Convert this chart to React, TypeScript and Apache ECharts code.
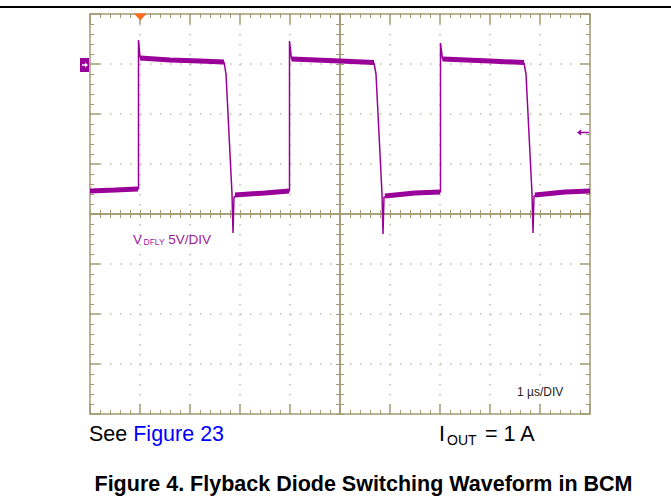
import React, { useEffect, useRef } from "react";
import * as echarts from "echarts";

// Time (µs) and voltage (V) of the VDFLY trace
const traceTime = [
  0, 0.5, 0.97, 0.97, 1.0, 1.2, 1.6, 2.2, 2.68, 2.72, 2.76, 2.8, 2.84, 2.86, 2.88, 3.0, 3.5, 3.99,
  3.99, 4.03, 4.5, 5.0, 5.68, 5.72, 5.76, 5.8, 5.84, 5.86, 5.88, 6.0, 6.5, 7.01,
  7.01, 7.05, 7.5, 8.0, 8.68, 8.72, 8.76, 8.8, 8.84, 8.86, 8.88, 9.0, 9.5, 10,
];
const traceVolts = [
  -12.7, -12.6, -12.5, 2.4, 0.7, 0.5, 0.4, 0.3, 0.2, -1, -5, -9, -13, -16.9, -13.3, -13.0, -12.9, -12.7,
  2.3, 0.5, 0.4, 0.3, 0.1, -1, -5, -9, -13, -17.0, -13.3, -13.1, -12.9, -12.8,
  2.1, 0.5, 0.4, 0.3, 0.1, -1, -5, -9, -13, -16.9, -13.2, -13.0, -12.8, -12.7,
];

// Noisy plateau segments (thick band), null = gap
const bandTime = [
  0, 0.5, 0.96, null, 1.0, 1.6, 2.2, 2.68, null, 2.9, 3.5, 3.98, null,
  4.03, 5.0, 5.68, null, 5.9, 6.5, 7.0, null, 7.05, 8.0, 8.68, null, 8.9, 9.5, 10,
];
const bandVolts = [
  -12.7, -12.6, -12.5, null, 0.6, 0.4, 0.3, 0.2, null, -13.1, -12.9, -12.7, null,
  0.5, 0.3, 0.15, null, -13.2, -12.9, -12.8, null, 0.5, 0.3, 0.15, null, -13.1, -12.8, -12.7,
];

// Scope screen: 10 time divisions of 1 µs, 8 voltage divisions of 5 V
const timeRange = [0, 10];
const voltRange = [-35, 5];
const timePerDiv = 1;
const voltPerDiv = 5;

const BORDER = "#a39b74";
const DOT = "#c2bea2";
const TRACE = "#990099";
const FONT = "'Liberation Sans', Arial, sans-serif";

export default function App() {
  const ref = useRef<HTMLDivElement>(null);

  useEffect(() => {
    if (!ref.current) return;
    const chart = echarts.init(ref.current, null, { renderer: "svg" });

    const trace = traceTime.map((t, i) => [t, traceVolts[i]]);
    const band = bandTime.map((t, i) => (t === null ? [null, null] : [t, bandVolts[i]]));

    const gridRect = { left: 90, top: 14, width: 500, height: 400 };

    const borderX = (position: string, split: boolean) => ({
      gridIndex: 0,
      type: "value",
      position,
      min: timeRange[0],
      max: timeRange[1],
      interval: timePerDiv,
      axisLine: { show: true, onZero: false, lineStyle: { color: BORDER, width: 1.5 } },
      axisTick: { show: true, inside: true, length: 10, lineStyle: { color: BORDER, width: 1.5 } },
      minorTick: { show: true, splitNumber: 5, length: 4, lineStyle: { color: BORDER, width: 1 } },
      splitLine: { show: split, lineStyle: { color: DOT, width: 1.5, type: [1.5, 8.5] } },
      axisLabel: { show: false },
    });
    const borderY = (position: string, split: boolean) => ({
      gridIndex: 0,
      type: "value",
      position,
      min: voltRange[0],
      max: voltRange[1],
      interval: voltPerDiv,
      axisLine: { show: true, onZero: false, lineStyle: { color: BORDER, width: 1.5 } },
      axisTick: { show: true, inside: true, length: 10, lineStyle: { color: BORDER, width: 1.5 } },
      minorTick: { show: true, splitNumber: 5, length: 4, lineStyle: { color: BORDER, width: 1 } },
      splitLine: { show: split, lineStyle: { color: DOT, width: 1.5, type: [1.5, 8.5] } },
      axisLabel: { show: false },
    });
    const centerX = (gi: number, inside: boolean) => ({
      gridIndex: gi,
      type: "value",
      min: -5,
      max: 5,
      interval: 1,
      axisLine: { show: true, onZero: true, lineStyle: { color: BORDER, width: 1.5 } },
      axisTick: { show: true, inside, length: 4, lineStyle: { color: BORDER, width: 1 } },
      minorTick: { show: true, splitNumber: 5, length: 4, lineStyle: { color: BORDER, width: 1 } },
      splitLine: { show: false },
      axisLabel: { show: false },
    });
    const centerY = (gi: number, inside: boolean) => ({
      gridIndex: gi,
      type: "value",
      min: -4,
      max: 4,
      interval: 1,
      axisLine: { show: true, onZero: true, lineStyle: { color: BORDER, width: 1.5 } },
      axisTick: { show: true, inside, length: 4, lineStyle: { color: BORDER, width: 1 } },
      minorTick: { show: true, splitNumber: 5, length: 4, lineStyle: { color: BORDER, width: 1 } },
      splitLine: { show: false },
      axisLabel: { show: false },
    });

    chart.setOption({
      animation: false,
      backgroundColor: "#ffffff",
      grid: [gridRect, gridRect, gridRect],
      xAxis: [borderX("bottom", true), borderX("top", false), centerX(1, true), centerX(2, false)],
      yAxis: [borderY("left", true), borderY("right", false), centerY(1, true), centerY(2, false)],
      series: [
        {
          type: "line",
          xAxisIndex: 0,
          yAxisIndex: 0,
          data: band,
          showSymbol: false,
          connectNulls: false,
          lineStyle: { color: TRACE, width: 5 },
          z: 3,
        },
        {
          type: "line",
          xAxisIndex: 0,
          yAxisIndex: 0,
          data: trace,
          showSymbol: false,
          lineStyle: { color: TRACE, width: 1.5 },
          z: 4,
        },
      ],
      graphic: [
        { type: "line", z: 20, shape: { x1: 0, y1: 7, x2: 671, y2: 7 }, style: { stroke: "#000", lineWidth: 2 } },
        // trigger position marker
        { type: "polygon", z: 20, shape: { points: [[134, 13.5], [146.5, 13.5], [140.3, 20.5]] }, style: { fill: "#ff6a1f" } },
        // channel ground marker
        { type: "rect", z: 20, shape: { x: 80, y: 58, width: 9, height: 14 }, style: { fill: TRACE } },
        { type: "line", z: 21, shape: { x1: 82, y1: 65, x2: 86, y2: 65 }, style: { stroke: "#fff", lineWidth: 1.5 } },
        { type: "polygon", z: 21, shape: { points: [[88, 65], [85, 62.5], [85, 67.5]] }, style: { fill: "#fff" } },
        // trigger level marker
        { type: "line", z: 20, shape: { x1: 580, y1: 132.5, x2: 589, y2: 132.5 }, style: { stroke: TRACE, lineWidth: 1.5 } },
        { type: "polygon", z: 20, shape: { points: [[577, 132.5], [581, 129.5], [581, 135.5]] }, style: { fill: TRACE } },
        // channel label
        { type: "text", z: 20, x: 133, y: 232.3, style: { text: "V", font: `13.5px ${FONT}`, fill: "#9c1a9c", verticalAlign: "top" } },
        { type: "text", z: 20, x: 143.5, y: 237.2, style: { text: "DFLY", font: `8.5px ${FONT}`, fill: "#9c1a9c", verticalAlign: "top" } },
        { type: "text", z: 20, x: 164.5, y: 232.3, style: { text: " 5V/DIV", font: `13.5px ${FONT}`, fill: "#9c1a9c", verticalAlign: "top" } },
        // time base
        { type: "text", z: 20, x: 517, y: 385.5, style: { text: "1 µs/DIV", font: `12px ${FONT}`, fill: "#222", verticalAlign: "top" } },
        // notes below
        {
          type: "text",
          z: 20,
          x: 89,
          y: 423.2,
          style: {
            text: "{k|See }{b|Figure 23}",
            verticalAlign: "top",
            rich: {
              k: { font: `21.5px ${FONT}`, fill: "#000" },
              b: { font: `21.5px ${FONT}`, fill: "#0000ff" },
            },
          },
        },
        { type: "text", z: 20, x: 439, y: 423.2, style: { text: "I", font: `21.5px ${FONT}`, fill: "#000", verticalAlign: "top" } },
        { type: "text", z: 20, x: 447, y: 432.8, style: { text: "OUT", font: `14px ${FONT}`, fill: "#000", verticalAlign: "top" } },
        { type: "text", z: 20, x: 479, y: 423.2, style: { text: " = 1 A", font: `21.5px ${FONT}`, fill: "#000", verticalAlign: "top" } },
        {
          type: "text",
          z: 20,
          x: 363.5,
          y: 473.2,
          style: {
            text: "Figure 4. Flyback Diode Switching Waveform in BCM",
            font: `bold 21.5px ${FONT}`,
            fill: "#000",
            align: "center",
            verticalAlign: "top",
          },
        },
      ],
    });

    return () => chart.dispose();
  }, []);

  return (
    <div
      ref={ref}
      style={{ position: "absolute", left: 0, top: 0, width: 671, height: 497 }}
    />
  );
}
